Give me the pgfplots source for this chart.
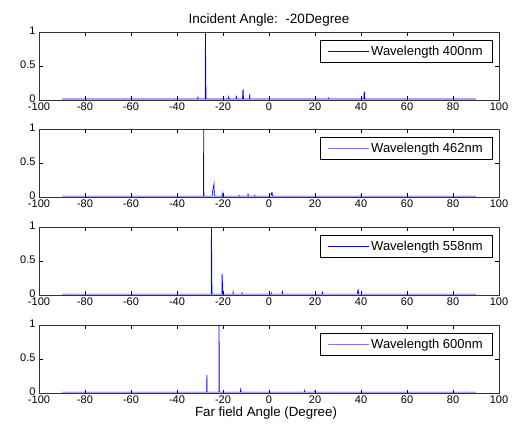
\documentclass[border=0pt]{standalone}
\usepackage{fontspec}
\setmainfont{Liberation Sans}
\usepackage{pgfplots}
\pgfplotsset{compat=1.18}

\definecolor{lineblue}{RGB}{0,0,255}
\definecolor{paleblue}{RGB}{120,120,255}

\pgfplotsset{
  panel/.style={
    scale only axis, width=460pt, height=68.5pt,
    xmin=-100, xmax=100, ymin=0, ymax=1,
    xtick={-100,-80,...,100}, ytick={0,0.5,1},
    tick align=inside, major tick length=4pt,
    tick style={black, line width=0.5pt},
    axis line style={line width=0.5pt, black!80},
    ticklabel style={font=\fontsize{11}{12}\selectfont},
    /pgf/number format/assume math mode=true,
    xticklabel style={yshift=1pt},
    yticklabel style={yshift=1.5pt},
    legend style={at={(1,1)}, anchor=north east, xshift=-7pt, yshift=-8pt,
      draw=black, line width=0.5pt, font=\fontsize{13}{14}\selectfont,
      inner xsep=7pt, inner ysep=3.5pt},
    legend cell align=left,
    legend image code/.code={\draw[##1] (0pt,0pt) -- (41pt,0pt);},
  },
  spec/.style={draw=lineblue, line width=0.7pt, forget plot},
}

\begin{document}
\begin{tikzpicture}
\path[use as bounding box] (0,0) rectangle (514pt,-430pt);

\begin{axis}[panel, at={(39pt,-32pt)}, anchor=north west,
  title={Incident Angle:\ \ -20Degree},
  title style={font=\fontsize{13.5}{14}\selectfont, yshift=-4pt}]
\addplot[spec] coordinates {
(-90,0.022) (-31,0.022) (-30.9,0.06) (-30.8,0.022)
(-27.75,0.022) (-27.65,1) (-27.5,0.52) (-27.4,0.022)
(-17.6,0.022) (-17.5,0.07) (-17.4,0.022)
(-14.3,0.022) (-14.2,0.07) (-14.1,0.022)
(-11.5,0.022) (-11.4,0.14) (-11.2,0.15) (-11.1,0.022)
(-8.5,0.022) (-8.4,0.1) (-8.3,0.022)
(25.9,0.022) (26,0.035) (26.1,0.022)
(41.2,0.022) (41.3,0.09) (41.5,0.13) (41.6,0.022)
(90,0.022)
};
\addlegendimage{draw=lineblue, line width=0.7pt}
\addlegendentry{Wavelength 400nm}
\end{axis}

\begin{axis}[panel, at={(39pt,-129pt)}, anchor=north west]
\addplot[spec] coordinates {
(-90,0.02) (-28.5,0.02) (-28.4,1) (-28.3,0.02)
(-24.7,0.02) (-24.6,0.07) (-24.2,0.15) (-23.9,0.2) (-23.8,0.02)
(-20.4,0.02) (-20.3,0.05) (-20.2,0.02)
(-13.1,0.02) (-13,0.03) (-12.9,0.02)
(-9.2,0.02) (-9.1,0.06) (-9,0.02)
(-6.3,0.02) (-6.2,0.03) (-6.1,0.02)
(0.9,0.02) (1,0.07) (1.4,0.07) (1.5,0.02)
(39.9,0.02) (40,0.03) (40.1,0.02)
(90,0.02)
};
\addlegendimage{draw=paleblue, line width=0.8pt}
\addlegendentry{Wavelength 462nm}
\end{axis}

\begin{axis}[panel, at={(39pt,-227pt)}, anchor=north west]
\addplot[spec] coordinates {
(-90,0.02) (-25.15,0.02) (-25.05,1) (-24.9,0.52) (-24.8,0.02)
(-20.5,0.02) (-20.4,0.32) (-20.2,0.15) (-20.1,0.02)
(-15.7,0.02) (-15.6,0.05) (-15.5,0.02)
(-11.8,0.02) (-11.7,0.035) (-11.6,0.02)
(0.9,0.02) (1,0.035) (1.1,0.02)
(5.7,0.02) (5.8,0.07) (5.9,0.02)
(23.1,0.02) (23.2,0.06) (23.3,0.02)
(38.4,0.02) (38.5,0.06) (38.8,0.08) (38.9,0.02)
(90,0.02)
};
\addlegendimage{draw=lineblue, line width=0.7pt}
\addlegendentry{Wavelength 558nm}
\end{axis}

\begin{axis}[panel, at={(39pt,-325pt)}, anchor=north west,
  xlabel={Far field Angle (Degree)},
  xlabel style={font=\fontsize{13.3}{14}\selectfont, yshift=4pt, xshift=-3pt}]
\addplot[spec] coordinates {
(-90,0.02) (-27.1,0.02) (-27,0.27) (-26.9,0.02)
(-21.8,0.02) (-21.7,1) (-21.6,0.02)
(-12.4,0.02) (-12.3,0.08) (-12.2,0.02)
(15.4,0.02) (15.5,0.04) (15.6,0.02)
(19.8,0.02) (19.9,0.03) (20,0.02)
(90,0.02)
};
\addlegendimage{draw=paleblue, line width=0.8pt}
\addlegendentry{Wavelength 600nm}
\end{axis}
\end{tikzpicture}
\end{document}
